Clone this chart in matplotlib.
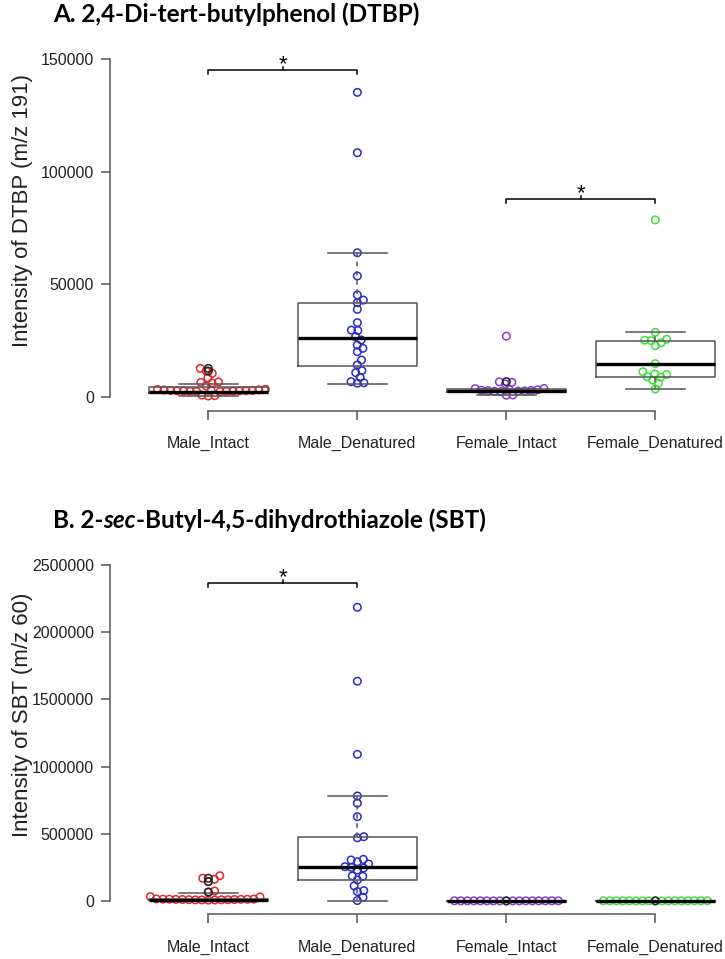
#!/usr/bin/env python3

import matplotlib
matplotlib.use("Agg")
import matplotlib.pyplot as plt
import numpy as np

# categories and colours
groups = ["Male_Intact", "Male_Denatured", "Female_Intact", "Female_Denatured"]
colors = ["#e8262a", "#2b2bc8", "#8a3acf", "#3ee03e"]

# panel A: DTBP intensities (m/z 191)
dtbp_male_intact = [12700, 11500, 10500, 8400, 6700, 6500, 6200, 4900,
                    3400, 3300, 3180, 3090, 3020, 2930, 2880, 2790, 2730,
                    2690, 2640, 2580, 2520, 2490, 2430, 2380,
                    850, 600, 420]
dtbp_male_denat = [135200, 108400, 64000, 53700, 45300, 43000, 41900, 38900,
                   33000, 29700, 29500, 26800, 25300, 23000, 21600, 20100,
                   16400, 14200, 11700, 10800, 8700, 6800, 6300, 6100]
dtbp_female_intact = [27000, 6700, 6500, 5800, 3800, 3700, 3400, 3200, 3000,
                      2900, 2800, 2700, 2600, 2500, 2400, 900, 800]
dtbp_female_denat = [78600, 28700, 25600, 25200, 25000, 24100, 22800, 14800,
                     11200, 10200, 10000, 9000, 8800, 7500, 6100, 3550]
# boxplot stats: whislo, q1, med, q3, whishi
dtbp_box = [[300, 1900, 2300, 4300, 5800],
            [5800, 13800, 26000, 41500, 64000],
            [750, 2000, 2800, 3600, 3700],
            [3550, 9000, 14800, 25000, 28700]]
dtbp_dark = [[12700, 11500], [], [6800], []]
dtbp_yticks = [0, 50000, 100000, 150000]

# panel B: SBT intensities (m/z 60)
sbt_male_intact = [188000, 169000, 161000, 144000, 74000, 66000, 32000, 30000,
                   15000, 14100, 13500, 13100, 12400, 12000, 11600,
                   11000, 10500, 9400, 9000, 8600, 8000, 7500, 7100,
                   6000]
sbt_male_denat = [2185000, 1635000, 1091000, 781000, 727000, 627000, 478000,
                  470000, 310000, 305000, 292000, 275000, 255000, 250000,
                  245000, 230000, 186000, 183000, 156000, 112000, 77000,
                  70000, 27000, 3000]
sbt_female_intact = [1200, 1150, 1100, 1000, 950, 900, 850, 800, 760, 700,
                     650, 600, 550, 500, 450, 350, 300]
sbt_female_denat = [1250, 1150, 1080, 1000, 960, 900, 840, 800, 750, 700,
                    640, 600, 540, 500, 460, 380, 300]
sbt_box = [[0, 5000, 9000, 16000, 62000],
           [3000, 156000, 250000, 478000, 781000],
           [300, 500, 800, 1000, 1200],
           [300, 500, 800, 1000, 1250]]
sbt_dark = [[169000, 144000, 66000], [], [800], [800]]
sbt_yticks = [0, 500000, 1000000, 1500000, 2000000, 2500000]

plt.rcParams["font.family"] = ["Liberation Sans", "DejaVu Sans"]
GREY = "#555555"


def swarm(ypx, d):
    # simple beeswarm: place points in ascending order nearest to the centre
    order = np.argsort(ypx)
    xs = np.zeros(len(ypx))
    placed = []
    for i in order:
        y = ypx[i]
        cands = [0.0]
        for px, py in placed:
            dy = y - py
            if abs(dy) < d:
                dx = np.sqrt(d * d - dy * dy)
                cands += [px + dx, px - dx]
        cands.sort(key=lambda c: (abs(c), -c))
        for c in cands:
            if all((c - px) ** 2 + (y - py) ** 2 >= d * d - 1e-6 for px, py in placed):
                xs[i] = c
                break
        placed.append((xs[i], y))
    return xs


def draw_panel(ax, series, boxes, dark, yticks, ylim, ylabel):
    ax.set_xlim(0.34, 0.34 + 615 / 149)
    ax.set_ylim(*ylim)
    xscale = ax.transData.transform((1, 0))[0] - ax.transData.transform((0, 0))[0]
    for i, vals in enumerate(series):
        xi = i + 1
        vals = np.asarray(vals, float)
        ypx = ax.transData.transform(np.column_stack([np.full(len(vals), xi), vals]))[:, 1]
        off = swarm(ypx, 6.5)
        ax.scatter(xi + off / xscale, vals, s=29, facecolors="none",
                   edgecolors=colors[i], linewidths=1.1, zorder=2)
        if dark[i]:
            ax.scatter(np.full(len(dark[i]), xi), dark[i], s=29, facecolors="none",
                       edgecolors="#222222", linewidths=1.1, zorder=4)
    stats = [dict(whislo=b[0], q1=b[1], med=b[2], q3=b[3], whishi=b[4], label=g)
             for b, g in zip(boxes, groups)]
    ax.bxp(stats, positions=[1, 2, 3, 4], widths=0.8, capwidths=0.4,
           showfliers=False, manage_ticks=False,
           boxprops=dict(color=GREY, lw=1.1, zorder=3),
           medianprops=dict(color="black", lw=2.4, zorder=3, solid_capstyle="butt"),
           whiskerprops=dict(color=GREY, lw=1.1, ls=(0, (3, 3)), zorder=3),
           capprops=dict(color=GREY, lw=1.1, zorder=3))
    for s in ["top", "right"]:
        ax.spines[s].set_visible(False)
    for s in ["left", "bottom"]:
        ax.spines[s].set_color(GREY)
        ax.spines[s].set_linewidth(1.1)
    ax.spines["left"].set_bounds(yticks[0], yticks[-1])
    ax.spines["bottom"].set_bounds(1, 4)
    ax.set_yticks(yticks)
    ax.set_yticklabels([str(t) for t in yticks])
    ax.set_xticks([1, 2, 3, 4])
    ax.set_xticklabels(groups)
    ax.tick_params(axis="both", length=6.5, width=1.1, color=GREY,
                   labelsize=11.5, labelcolor="#222222")
    ax.tick_params(axis="x", pad=12)
    ax.tick_params(axis="y", pad=5)
    ax.set_ylabel(ylabel, fontsize=16, color="#222222")
    ax.yaxis.set_label_coords(-0.126, 0.549)


def bracket(ax, x1, x2, y, down, up):
    ax.plot([x1, x1, x2, x2], [y - down, y, y, y - down], color="black", lw=1.1,
            clip_on=False)
    mid = (x1 + x2) / 2
    ax.plot([mid, mid], [y, y + up], color="black", lw=1.1, clip_on=False)
    ax.annotate("*", xy=(mid, y), xytext=(0, 0), textcoords="offset points",
                ha="center", va="baseline", fontsize=16, annotation_clip=False)


fig = plt.figure(figsize=(7.25, 9.59), dpi=100)
axA = fig.add_axes([110 / 725, (959 - 410.5) / 959, 615 / 725, 365 / 959])
axB = fig.add_axes([110 / 725, (959 - 914.4) / 959, 615 / 725, 362.9 / 959])

draw_panel(axA, [dtbp_male_intact, dtbp_male_denat, dtbp_female_intact, dtbp_female_denat],
           dtbp_box, dtbp_dark, dtbp_yticks, (-6000, 156000), "Intensity of DTBP (m/z 191)")
draw_panel(axB, [sbt_male_intact, sbt_male_denat, sbt_female_intact, sbt_female_denat],
           sbt_box, sbt_dark, sbt_yticks, (-100000, 2600000), "Intensity of SBT (m/z 60)")

bracket(axA, 1, 2, 145000, 1800, 1300)
bracket(axA, 3, 4, 87900, 1800, 1300)
bracket(axB, 1, 2, 2366000, 30000, 22000)

# titles
tfont = dict(family=["Lato", "DejaVu Sans"], weight="bold", fontsize=17.5)
fig.text(53 / 725, 1 - 22 / 959, "A. 2,4-Di-tert-butylphenol (DTBP)", va="baseline", **tfont)
t1 = fig.text(53 / 725, 1 - 532 / 959, "B. 2-", va="bottom", **tfont)
t2 = axB.annotate("sec", xy=(1, 0), xycoords=t1, va="bottom", ha="left",
                  style="italic", **tfont)
axB.annotate("-Butyl-4,5-dihydrothiazole (SBT)", xy=(1, 0), xycoords=t2,
             va="bottom", ha="left", **tfont)

fig.savefig("out.png", dpi=100)
